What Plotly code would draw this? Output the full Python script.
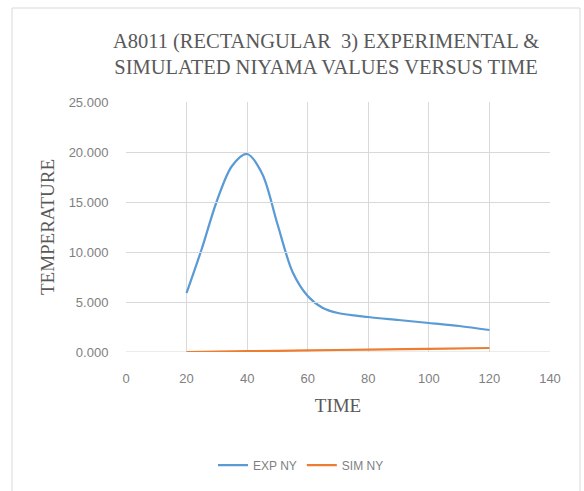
import plotly.graph_objects as go

time_exp = [20, 25, 30, 35, 40, 45, 50, 55, 60, 65, 70, 80, 90, 100, 110, 120]
exp_ny = [5.9, 10.3, 15.1, 18.6, 19.8, 17.8, 12.8, 8.0, 5.6, 4.4, 3.9, 3.5, 3.2, 2.9, 2.6, 2.2]
time_sim = [20, 40, 60, 80, 100, 120]
sim_ny = [0.0, 0.08, 0.16, 0.24, 0.32, 0.40]
title_text = "A8011 (RECTANGULAR  3) EXPERIMENTAL &<br>SIMULATED NIYAMA VALUES VERSUS TIME"

W, H = 584, 491
L, R, T, B = 126, 34, 102, 139

SERIF = "Liberation Serif"

fig = go.Figure()
# invisible helper trace so the title-carrying axis exists (drawn first)
fig.add_trace(go.Scatter(x=[None], y=[None], xaxis="x2", yaxis="y", mode="lines",
                         showlegend=False, hoverinfo="skip"))
fig.add_trace(go.Scatter(x=time_exp, y=exp_ny, mode="lines", name="EXP NY",
                         line=dict(color="#5b9bd5", width=2.25, shape="spline", smoothing=0.9)))
fig.add_trace(go.Scatter(x=time_sim, y=sim_ny, mode="lines", name="SIM NY",
                         line=dict(color="#ed7d31", width=2.25, shape="spline")))

pw = W - L - R
ph = H - T - B
def px_x(p): return (p - L) / pw
def px_y(p): return (H - B - p) / ph

fig.add_shape(type="rect", xref="paper", yref="paper",
              x0=px_x(12), x1=px_x(580), y0=px_y(500), y1=px_y(8),
              line=dict(color="#d9d9d9", width=1), fillcolor="rgba(0,0,0,0)", layer="below")

tickfont = dict(family="Liberation Sans", size=13, color="#808080")
fig.update_layout(
    width=W, height=H,
    margin=dict(l=L, r=R, t=T, b=B),
    paper_bgcolor="white", plot_bgcolor="rgba(0,0,0,0)",
    xaxis=dict(range=[0, 140], tickvals=[0, 20, 40, 60, 80, 100, 120, 140],
               showgrid=True, gridcolor="#d9d9d9", gridwidth=1, zeroline=False,
               showline=False, ticks="outside", ticklen=14, tickcolor="rgba(0,0,0,0)",
               tickfont=tickfont,
               title=dict(text="TIME", standoff=14,
                          font=dict(family=SERIF, size=19, color="#595959"))),
    xaxis2=dict(domain=[px_x(126), px_x(526)], anchor="free", position=1, side="top",
                range=[0, 1], showgrid=False, showticklabels=False, ticks="",
                showline=False, zeroline=False, fixedrange=True,
                title=dict(text=title_text, standoff=20,
                           font=dict(family=SERIF, size=20.5, color="#595959"))),
    yaxis=dict(range=[0, 25], tickvals=[0, 5, 10, 15, 20, 25], tickformat=".3f",
               showgrid=True, gridcolor="#d9d9d9", gridwidth=1, zeroline=False,
               showline=False, ticks="outside", ticklen=14, tickcolor="rgba(0,0,0,0)",
               tickfont=tickfont,
               title=dict(text="TEMPERATURE", standoff=8,
                          font=dict(family=SERIF, size=19, color="#595959"))),
    legend=dict(orientation="h", x=px_x(301), xanchor="center", y=px_y(465), yanchor="middle",
                font=dict(family="Liberation Sans", size=12, color="#7f7f7f"),
                itemwidth=30, tracegroupgap=0),
    showlegend=True,
)
fig.add_shape(type="line", xref="paper", yref="y", x0=0, x1=1, y0=0, y1=0,
              line=dict(color="#d9d9d9", width=1), layer="below")

fig.write_html("out.html")
